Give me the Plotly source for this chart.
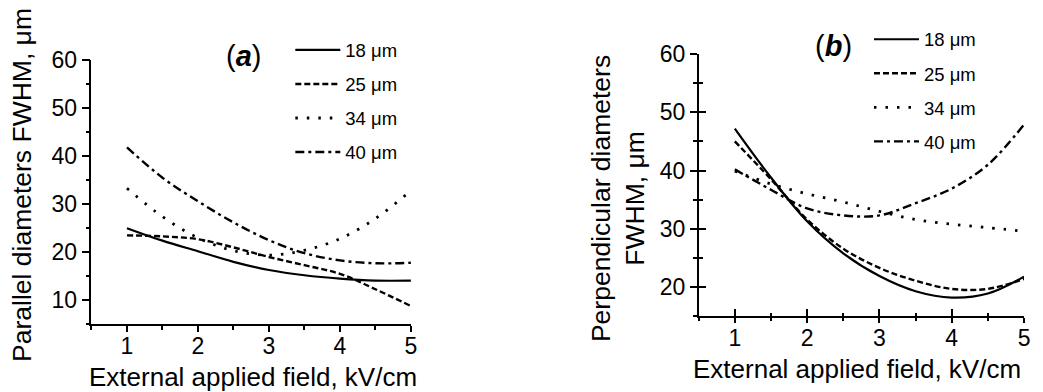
import plotly.graph_objects as go

# ---- data ----
field = [1.0, 1.5, 2.0, 2.5, 3.0, 3.5, 4.0, 4.5, 5.0]
names = ["18 μm", "25 μm", "34 μm", "40 μm"]

# (a) parallel diameters FWHM, um
par_18 = [25.0, 22.4, 20.2, 18.0, 16.3, 15.2, 14.5, 14.1, 14.1]
par_25 = [23.5, 23.3, 22.7, 21.0, 19.0, 17.3, 15.5, 12.3, 8.8]
par_34 = [33.3, 27.4, 23.0, 20.3, 19.4, 20.4, 22.8, 27.0, 32.8]
par_40 = [41.8, 35.5, 30.6, 26.2, 22.5, 19.8, 18.3, 17.7, 17.8]

# (b) perpendicular diameters FWHM, um
per_18 = [47.2, 38.8, 31.3, 25.8, 21.9, 19.3, 18.2, 18.9, 21.8]
per_25 = [45.0, 38.5, 31.6, 26.6, 23.3, 21.1, 19.7, 19.7, 21.4]
per_34 = [39.9, 37.7, 36.0, 34.6, 33.0, 31.6, 30.8, 30.2, 29.6]
per_40 = [40.2, 36.7, 33.5, 32.3, 32.3, 34.4, 36.9, 41.0, 47.9]

dashes = ["solid", "6px,3px", "2.5px,9px", "9px,4px,3px,4px"]
widths = [2.2, 2.4, 2.8, 2.4]
FONT = "Liberation Sans, Arial, Helvetica, sans-serif"
W, H = 1043, 392

fig = go.Figure()
for i, (ys, nm) in enumerate(zip([par_18, par_25, par_34, par_40], names)):
    fig.add_trace(go.Scatter(x=field, y=ys, name=nm, mode="lines",
                             line=dict(color="black", width=widths[i], dash=dashes[i], shape="spline", smoothing=1.0),
                             xaxis="x", yaxis="y", legend="legend", legendgroup="a%d" % i))
for i, (ys, nm) in enumerate(zip([per_18, per_25, per_34, per_40], names)):
    fig.add_trace(go.Scatter(x=field, y=ys, name=nm, mode="lines",
                             line=dict(color="black", width=widths[i], dash=dashes[i], shape="spline", smoothing=1.0),
                             xaxis="x2", yaxis="y2", legend="legend2", legendgroup="b%d" % i))
# empty traces so that the overlay axes (inner half of crossing ticks) get drawn
fig.add_trace(go.Scatter(x=[], y=[], xaxis="x3", yaxis="y2", showlegend=False, hoverinfo="skip"))
fig.add_trace(go.Scatter(x=[], y=[], xaxis="x2", yaxis="y3", showlegend=False, hoverinfo="skip"))


def px_x(p):
    return p / W


def px_y(p):
    return 1 - p / H


def axis(ticklen, minorlen, standoff, **kw):
    d = dict(showline=True, linecolor="black", linewidth=1.5, showgrid=False, zeroline=False,
             ticks="outside", ticklen=ticklen, tickwidth=1.5, tickcolor="black",
             ticklabelstandoff=standoff,
             tickfont=dict(family=FONT, size=23, color="black"),
             minor=dict(ticks="outside", ticklen=minorlen, tickwidth=1.5, tickcolor="black",
                        dtick=kw.pop("mdtick"), tick0=kw.pop("mtick0")))
    d.update(kw)
    return d


def inner(ticklen, minorlen, **kw):
    d = dict(showline=False, showgrid=False, zeroline=False, showticklabels=False,
             ticks="inside", ticklen=ticklen, tickwidth=1.5, tickcolor="black",
             minor=dict(ticks="inside", ticklen=minorlen, tickwidth=1.5, tickcolor="black",
                        dtick=kw.pop("mdtick"), tick0=kw.pop("mtick0")))
    d.update(kw)
    return d


XA = [px_x(92), px_x(413.3)]
YA = [px_y(322), px_y(48.5)]
XB = [px_x(702.7), px_x(1030)]
YB = [px_y(313.7), px_y(42.3)]

fig.update_layout(
    width=W, height=H,
    margin=dict(l=0, r=0, t=0, b=0),
    paper_bgcolor="white", plot_bgcolor="white",
    font=dict(family=FONT, color="black"),
    xaxis=axis(6, 4, -6, domain=XA, range=[0.5, 5], dtick=1, tick0=1, anchor="y", mdtick=0.5, mtick0=0.5),
    yaxis=axis(8, 4, 0, domain=YA, range=[5, 60], dtick=10, tick0=10, anchor="x", mdtick=5, mtick0=5),
    xaxis2=axis(5, 3, -5, domain=XB, range=[0.5, 5], dtick=1, tick0=1, anchor="y2", mdtick=0.5, mtick0=0.5),
    yaxis2=axis(7, 4, 0, domain=YB, range=[15, 60], dtick=10, tick0=10, anchor="x2", mdtick=5, mtick0=5),
    xaxis3=inner(7, 3, domain=XB, range=[0.5, 5], dtick=1, tick0=1, anchor="y2", overlaying="x2",
                 mdtick=0.5, mtick0=0.5),
    yaxis3=inner(7, 4, domain=YB, range=[15, 60], dtick=10, tick0=10, anchor="x2", overlaying="y2",
                 mdtick=5, mtick0=5),
    legend=dict(x=px_x(292), y=px_y(19), xanchor="left", yanchor="top", bgcolor="rgba(0,0,0,0)",
                font=dict(family=FONT, size=18.5, color="black"), tracegroupgap=7, itemwidth=45),
    legend2=dict(x=px_x(874), y=px_y(8), xanchor="left", yanchor="top", bgcolor="rgba(0,0,0,0)",
                 font=dict(family=FONT, size=18.5, color="black"), tracegroupgap=7, itemwidth=45),
    showlegend=True,
)

ann = [
    dict(text="(<b><i>a</i></b>)", x=px_x(245), y=px_y(44), size=29),
    dict(text="(<b><i>b</i></b>)", x=px_x(838), y=px_y(34), size=29),
    dict(text="External applied field, kV/cm", x=px_x(254), y=px_y(377), size=26),
    dict(text="External applied field, kV/cm", x=px_x(862), y=px_y(368), size=26),
    dict(text="Parallel diameters FWHM, μm", x=px_x(22), y=px_y(178), textangle=-90, size=26.5),
    dict(text="Perpendicular diameters<br>FWHM, μm", x=px_x(621), y=px_y(192), textangle=-90, size=26.5),
]
for a in ann:
    fig.add_annotation(xref="paper", yref="paper", showarrow=False, xanchor="center", yanchor="middle",
                       font=dict(family=FONT, color="black", size=a["size"]),
                       text=a["text"], x=a["x"], y=a["y"], textangle=a.get("textangle", 0))

fig.write_html("out.html")
